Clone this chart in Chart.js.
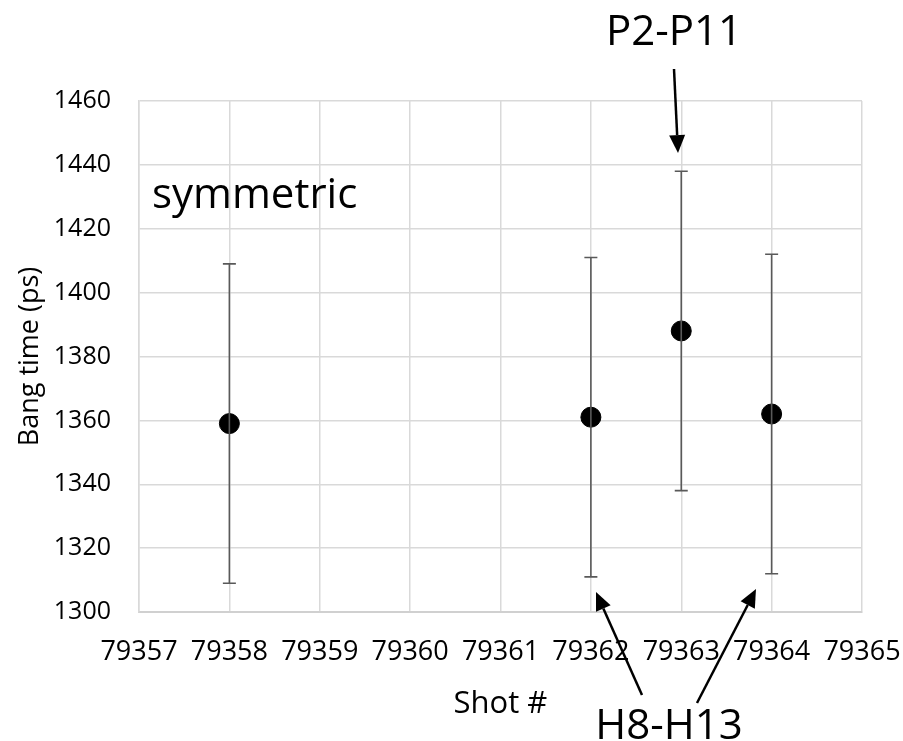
<!DOCTYPE html>
<html>
<head>
<meta charset="utf-8">
<script src="https://cdn.jsdelivr.net/npm/chart.js@4"></script>
<style>
  html, body { margin: 0; padding: 0; background: #fff; }
  #wrap { width: 903px; height: 741px; }
</style>
</head>
<body>
<div id="wrap"><canvas id="bangChart" width="903" height="741"></canvas></div>
<script>
// datos
const shots = [79358, 79362, 79363, 79364];
const bangTime = [1359, 1361, 1388, 1362];
const errPlus = [50, 50, 50, 50];
const errMinus = [50, 50, 50, 50];
const xTicks = [79357, 79358, 79359, 79360, 79361, 79362, 79363, 79364, 79365];
const yTicks = [1300, 1320, 1340, 1360, 1380, 1400, 1420, 1440, 1460];

const FONT = "'Open Sans', 'Liberation Sans', sans-serif";

// barras de error
const errorBars = {
  id: 'errorBars',
  afterDatasetsDraw(chart) {
    const { ctx, scales: { x, y } } = chart;
    ctx.save();
    ctx.strokeStyle = '#595959';
    ctx.lineWidth = 1.6;
    shots.forEach((s, i) => {
      const px = x.getPixelForValue(s);
      const top = y.getPixelForValue(bangTime[i] + errPlus[i]);
      const bot = y.getPixelForValue(bangTime[i] - errMinus[i]);
      ctx.beginPath();
      ctx.moveTo(px, top); ctx.lineTo(px, bot);
      ctx.moveTo(px - 6.5, top); ctx.lineTo(px + 6.5, top);
      ctx.moveTo(px - 6.5, bot); ctx.lineTo(px + 6.5, bot);
      ctx.stroke();
    });
    ctx.restore();
  }
};

// flechas y textos
const arrow = (ctx, x1, y1, x2, y2) => {
  const a = Math.atan2(y2 - y1, x2 - x1);
  const hl = 18, hw = 8;
  const bx = x2 - hl * Math.cos(a), by = y2 - hl * Math.sin(a);
  ctx.beginPath();
  ctx.moveTo(x1, y1); ctx.lineTo(bx, by);
  ctx.stroke();
  ctx.beginPath();
  ctx.moveTo(x2, y2);
  ctx.lineTo(bx + hw * Math.sin(a), by - hw * Math.cos(a));
  ctx.lineTo(bx - hw * Math.sin(a), by + hw * Math.cos(a));
  ctx.closePath();
  ctx.fill();
};

const notes = {
  id: 'notes',
  afterDraw(chart) {
    const ctx = chart.ctx;
    ctx.save();
    ctx.fillStyle = '#000';
    ctx.strokeStyle = '#000';
    ctx.lineWidth = 2.5;
    ctx.font = `42px ${FONT}`;
    ctx.textBaseline = 'alphabetic';
    ctx.textAlign = 'left';
    ctx.fillText('symmetric', 152, 208);
    ctx.textAlign = 'center';
    ctx.fillText('P2-P11', 674, 45);
    ctx.fillText('H8-H13', 669, 739);
    arrow(ctx, 674, 69, 678, 153);
    arrow(ctx, 642, 695, 596, 592);
    arrow(ctx, 697, 703, 756, 589);
    ctx.restore();
  }
};

new Chart(document.getElementById('bangChart'), {
  type: 'scatter',
  data: {
    datasets: [{
      label: 'Bang time',
      data: shots.map((s, i) => ({ x: s, y: bangTime[i] })),
      backgroundColor: '#000',
      borderColor: '#000',
      pointRadius: 10,
      pointHoverRadius: 10
    }]
  },
  options: {
    responsive: false,
    animation: false,
    layout: { padding: { top: 101, right: 41, left: 0, bottom: 0 } },
    plugins: { legend: { display: false }, tooltip: { enabled: false } },
    scales: {
      x: {
        type: 'linear',
        min: xTicks[0], max: xTicks[xTicks.length - 1],
        afterBuildTicks: s => { s.ticks = xTicks.map(v => ({ value: v })); },
        afterFit: s => { s.height = 741 - 612; s.paddingLeft = 0; s.paddingRight = 0; },
        ticks: { callback: v => String(v), color: '#000', font: { family: FONT, size: 27 }, padding: 24, maxRotation: 0, autoSkip: false },
        grid: { color: '#d9d9d9', lineWidth: 1.5, drawTicks: false },
        border: { color: '#d0d0d0', width: 2 },
        title: { display: true, text: 'Shot #', color: '#000', font: { family: FONT, size: 31 }, padding: { bottom: 18 } }
      },
      y: {
        min: yTicks[0], max: yTicks[yTicks.length - 1],
        afterBuildTicks: s => { s.ticks = yTicks.map(v => ({ value: v })); },
        afterFit: s => { s.width = 139; s.paddingTop = 0; s.paddingBottom = 0; },
        ticks: { callback: v => String(v), color: '#000', font: { family: FONT, size: 25 }, padding: 28 },
        grid: { color: '#d9d9d9', lineWidth: 1.5, drawTicks: false },
        border: { color: '#d9d9d9', width: 1.5 },
        title: { display: true, text: 'Bang time (ps)', color: '#000', font: { family: FONT, size: 27 }, padding: { top: 14 } }
      }
    }
  },
  plugins: [errorBars, notes]
});
</script>
</body>
</html>
